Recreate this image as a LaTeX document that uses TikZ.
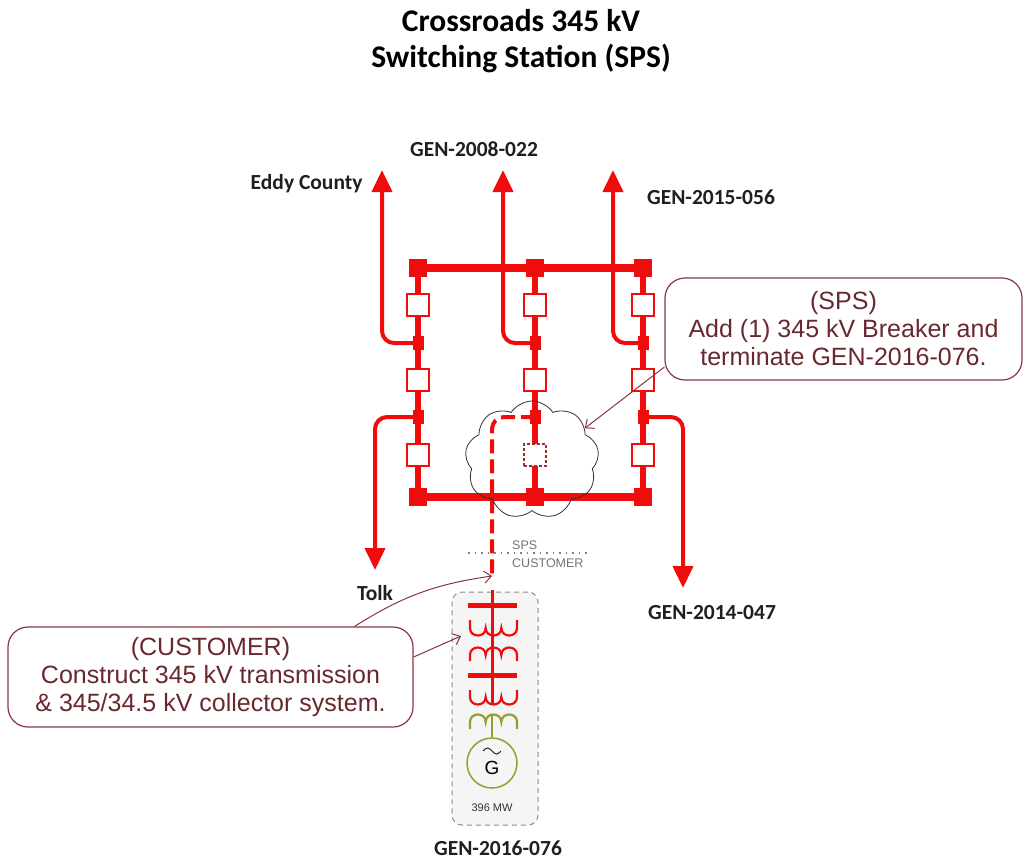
\documentclass[tikz,border=0pt]{standalone}
\usepackage{fontspec}
\setmainfont{Liberation Sans}
\newfontfamily\labelfont{Carlito}
\usepackage{tikz}
\usetikzlibrary{arrows.meta,shapes.symbols}
\usepackage{xcolor}
\definecolor{busred}{RGB}{240,12,12}
\definecolor{noteborder}{RGB}{135,55,60}
\definecolor{notetext}{RGB}{105,40,45}
\definecolor{genolive}{RGB}{150,160,40}
\tikzset{
	bus/.style={busred,line width=8pt},
	bay/.style={busred,line width=6pt},
	feeder/.style={busred,line width=4pt,rounded corners=12pt},
	feedarrow/.style={feeder,-{Triangle[length=22pt,width=20pt]}},
	busend/.style={fill=busred,minimum size=18pt,inner sep=0pt},
	junction/.style={fill=busred,minimum width=11pt,minimum height=14pt,inner sep=0pt},
	breaker/.style={draw=busred,fill=white,line width=1.2pt,minimum size=22pt,inner sep=0pt},
	lbl/.style={font=\labelfont\bfseries\fontsize{21.5}{24}\selectfont,text=black!88},
	note/.style={draw=noteborder,line width=1.2pt,rounded corners=20pt,text=notetext,align=center,inner sep=0pt,font=\fontsize{25}{28}\selectfont},
	pointer/.style={noteborder,line width=1pt,-{Straight Barb[length=7pt,width=12pt]}},
	custarea/.style={draw=black!45,fill=black!4,dash pattern=on 5pt off 4pt,line width=1pt,rounded corners=10pt,minimum width=86pt,minimum height=233pt},
	coil/.style={busred,line width=2.2pt},
	small/.style={text=black!55,font=\fontsize{12.5}{13}\selectfont,inner sep=0pt}
}
\begin{document}
\begin{tikzpicture}[x=1pt,y=-1pt]
			\useasboundingbox (0,0) rectangle (1025,865);
			\coordinate (tL) at (418,268);
			\coordinate (tM) at (535,268);
			\coordinate (tR) at (643,268);
			\coordinate (bL) at (418,497);
			\coordinate (bM) at (535,497);
			\coordinate (bR) at (643,497);
			\coordinate (jL1) at (418,343);
			\coordinate (jM1) at (535,343);
			\coordinate (jR1) at (643,343);
			\coordinate (jL2) at (418,417);
			\coordinate (jM2) at (535,417);
			\coordinate (jR2) at (643,417);
			\coordinate (eddy) at (382,170);
			\coordinate (gen022) at (503,170);
			\coordinate (gen056) at (613,170);
			\coordinate (tolk) at (375,570);
			\coordinate (gen047) at (683,588);
			\coordinate (poi) at (492,576);
			\coordinate (custtip) at (461,636);
			\node[lbl,align=center,font=\labelfont\bfseries\fontsize{31.5}{36}\selectfont,text=black] (title) at (521,41) {Crossroads 345 kV\\Switching Station (SPS)};
			\node[custarea] (custbox) at (495,708.5) {};
			\draw[feedarrow] (jL1) -| (eddy);
			\draw[feedarrow] (jM1) -| (gen022);
			\draw[feedarrow] (jR1) -| (gen056);
			\draw[feedarrow] (jL2) -| (tolk);
			\draw[feedarrow] (jR2) -| (gen047);
			\draw[feeder,dash pattern=on 14pt off 6pt] (jM2) -| (poi);
			\draw[bay] (tL) -- (bL);
			\draw[bay] (tM) -- (bM);
			\draw[bay] (tR) -- (bR);
			\draw[bus] (tL) -- (tR);
			\draw[bus] (bL) -- (bR);
			\foreach \Nombre in {tL,tM,tR,bL,bM,bR}
			\node[busend] (sq-\Nombre) at (\Nombre) {};
			\foreach \Nombre in {jL1,jM1,jR1,jL2,jM2,jR2}
			\node[junction] (dot-\Nombre) at (\Nombre) {};
			\foreach \x in {418,535,643}
			\foreach \y in {305,380}
			\node[breaker] (cb-\x-\y) at (\x,\y) {};
			\node[breaker] (cb-418-455) at (418,455) {};
			\node[breaker] (cb-643-455) at (643,455) {};
			\node[breaker,draw=noteborder!80!busred,dash pattern=on 3pt off 2pt] (cb-new) at (535,455) {};
			\node[cloud,cloud puffs=9,cloud puff arc=115,draw=black!80,line width=0.8pt,minimum width=134pt,minimum height=118pt,aspect=1.1] (cloud) at (532,460) {};
			\node[lbl,anchor=east] (eddylbl) at (366,184) {Eddy County};
			\node[lbl] (gen022lbl) at (474,149) {GEN-2008-022};
			\node[lbl] (gen056lbl) at (711,197) {GEN-2015-056};
			\node[lbl] (tolklbl) at (375,593) {Tolk};
			\node[lbl] (gen047lbl) at (712,613) {GEN-2014-047};
			\node[lbl] (gen076lbl) at (498,848) {GEN-2016-076};
			\draw[black!50,line width=1.2pt,dash pattern=on 1.5pt off 5pt] (468,553) -- (587,553);
			\node[small,anchor=west] (spstxt) at (512,545) {SPS};
			\node[small,anchor=west] (custtxt) at (512,563) {CUSTOMER};
			\draw[busred,line width=3pt] (492,590) -- (492,705);
			\draw[busred,line width=5pt] (468,605) -- (517,605);
			\draw[busred,line width=5pt] (468,675) -- (517,675);
			\draw[coil] (470,620) -- (470,628)
				\foreach \k in {0,1,2} {.. controls (470+15.67*\k,638) and (485.67+15.67*\k,638) .. (485.67+15.67*\k,628)} -- (517,620);
			\draw[coil] (470,661) -- (470,655)
				\foreach \k in {0,1,2} {.. controls (470+15.67*\k,645) and (485.67+15.67*\k,645) .. (485.67+15.67*\k,655)} -- (517,661);
			\draw[coil] (470,690) -- (470,697)
				\foreach \k in {0,1,2} {.. controls (470+15.67*\k,707) and (485.67+15.67*\k,707) .. (485.67+15.67*\k,697)} -- (517,690);
			\draw[coil,genolive] (470,729) -- (470,722)
				\foreach \k in {0,1,2} {.. controls (470+15.67*\k,712) and (485.67+15.67*\k,712) .. (485.67+15.67*\k,722)} -- (517,729);
			\node[circle,draw=genolive,line width=1.5pt,minimum size=50pt,inner sep=0pt] (gen) at (492,763) {};
			\draw[genolive,line width=2pt] (492,714) -- (gen.north);
			\node[font=\fontsize{19}{20}\selectfont,inner sep=0pt] (glbl) at (492,768) {G};
			\draw[black!85,line width=1pt] (483,751) sin (487.5,748) cos (492,751) sin (496.5,754) cos (501,751);
			\node[font=\fontsize{11}{12}\selectfont,text=black!80,inner sep=0pt] (mw) at (492,808) {396 MW};
			\node[note,minimum width=357pt,minimum height=102pt] (spsnote) at (843.5,329) {(SPS)\\Add (1) 345 kV Breaker and\\terminate GEN-2016-076.};
			\node[note,minimum width=405pt,minimum height=100pt] (custnote) at (210.5,677) {(CUSTOMER)\\Construct 345 kV transmission\\\& 345/34.5 kV collector system.};
			\draw[pointer] ([yshift=-38pt]spsnote.west) -- (cloud.31);
			\draw[pointer] ([xshift=144pt]custnote.north) to[bend left=12] (poi);
			\draw[pointer] ([yshift=20pt]custnote.east) -- (custtip);
		\end{tikzpicture}
\end{document}
